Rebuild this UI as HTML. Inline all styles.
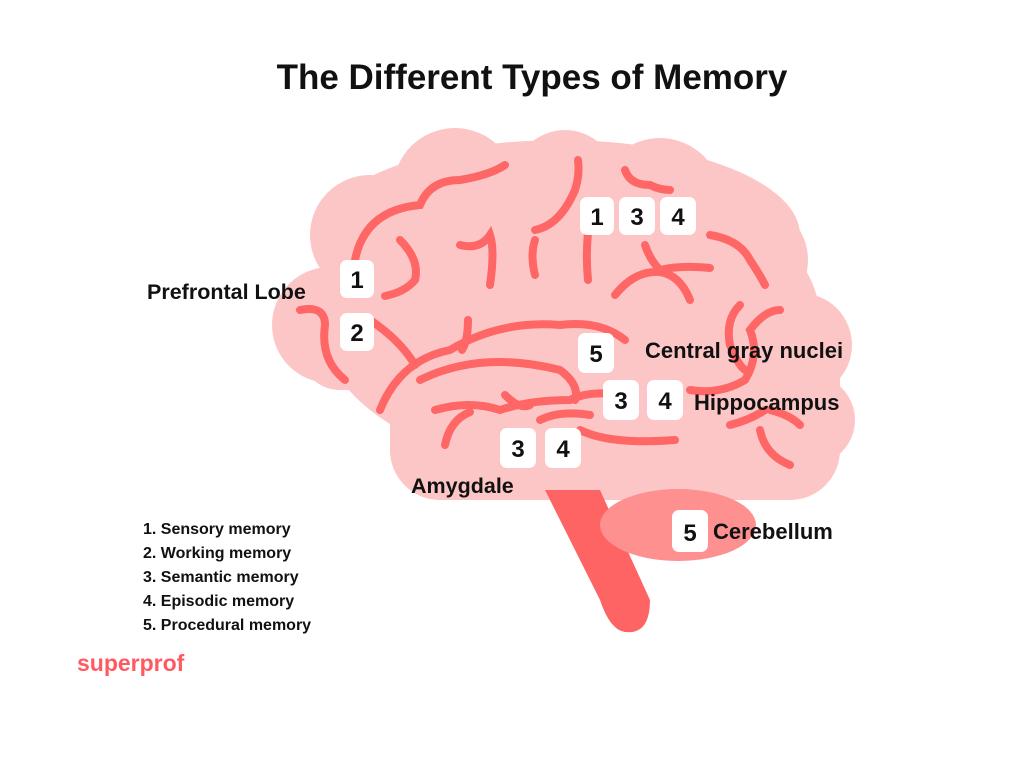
<!DOCTYPE html>
<html><head><style>
body{margin:0;background:#fff;width:1024px;height:768px;overflow:hidden;font-family:"Liberation Sans",sans-serif}
svg{position:absolute;left:0;top:0}
.t{position:absolute;font-weight:bold;color:#111;white-space:nowrap}
</style></head><body>
<svg width="1024" height="768" viewBox="0 0 1024 768">
<g fill="#fdc6c6">
<circle cx="330" cy="325" r="58"/>
<circle cx="370" cy="235" r="60"/>
<circle cx="455" cy="190" r="62"/>
<circle cx="565" cy="182" r="52"/>
<circle cx="660" cy="200" r="62"/>
<circle cx="750" cy="260" r="58"/>
<circle cx="800" cy="345" r="52"/>
<circle cx="810" cy="420" r="45"/>
<ellipse cx="570" cy="320" rx="250" ry="150"/>
<ellipse cx="560" cy="235" rx="240" ry="95"/>
<rect x="390" y="300" width="450" height="200" rx="50"/>
<rect x="300" y="280" width="150" height="110" rx="40"/>
</g>
<path d="M545 490 L600 490 L650 600 Q650 635 625 632 Q610 630 600 600 Z" fill="#ff6464"/>
<ellipse cx="678" cy="525" rx="78" ry="36" fill="#ff9090"/>
<g fill="none" stroke="#ff6666" stroke-width="8" stroke-linecap="round">
<path d="M355 260 Q365 210 420 205 Q430 180 460 180 Q490 175 505 165"/>
<path d="M400 240 Q420 260 415 280 Q405 292 385 296"/>
<path d="M300 310 Q325 305 325 325 Q320 360 345 380"/>
<path d="M370 320 Q400 340 415 365"/>
<path d="M380 410 Q400 360 450 350 Q500 320 560 325 Q600 320 625 340"/>
<path d="M468 320 Q468 340 462 350"/>
<path d="M420 380 Q480 350 560 370 Q580 385 575 400"/>
<path d="M435 410 Q470 400 500 410 Q530 400 570 400 Q590 390 620 395"/>
<path d="M445 445 Q450 420 470 412"/>
<path d="M505 395 Q520 410 530 405"/>
<path d="M580 430 Q610 445 675 440"/>
<path d="M540 420 Q560 410 590 415"/>
<path d="M460 245 Q480 250 490 235 Q495 250 490 285"/>
<path d="M535 230 Q560 225 575 190 Q580 175 578 160"/>
<path d="M535 240 Q530 255 535 275"/>
<path d="M625 170 Q630 185 650 185 Q660 190 670 190"/>
<path d="M590 215 Q585 250 588 280"/>
<path d="M615 295 Q635 270 660 272 Q680 275 690 300"/>
<path d="M660 270 Q680 265 710 268"/>
<path d="M710 235 Q740 240 750 260 Q760 275 765 285"/>
<path d="M645 245 Q650 260 660 270"/>
<path d="M740 305 Q725 320 730 345 Q738 365 745 370"/>
<path d="M690 390 Q720 395 745 380 Q760 355 750 330 Q765 310 780 310"/>
<path d="M770 410 Q790 415 800 425"/>
<path d="M760 430 Q765 455 790 465"/>
<path d="M730 425 Q750 420 765 410"/>
</g>
<g fill="#fff">
<rect x="340" y="260" width="34" height="38" rx="7"/>
<rect x="340" y="313" width="34" height="38" rx="7"/>
<rect x="580" y="197" width="34" height="38" rx="7"/>
<rect x="619" y="197" width="36" height="38" rx="7"/>
<rect x="660" y="197" width="36" height="38" rx="7"/>
<rect x="578" y="333" width="36" height="40" rx="7"/>
<rect x="603" y="380" width="36" height="40" rx="7"/>
<rect x="647" y="380" width="36" height="40" rx="7"/>
<rect x="500" y="428" width="36" height="40" rx="7"/>
<rect x="545" y="428" width="36" height="40" rx="7"/>
<rect x="672" y="510" width="36" height="42" rx="7"/>
</g>
<g font-family="Liberation Sans,sans-serif" font-weight="bold" font-size="24" fill="#111" text-anchor="middle">
<text x="357" y="288">1</text><text x="357" y="341">2</text>
<text x="597" y="225">1</text><text x="637" y="225">3</text><text x="678" y="225">4</text>
<text x="596" y="362">5</text><text x="621" y="409">3</text><text x="665" y="409">4</text>
<text x="518" y="457">3</text><text x="563" y="457">4</text><text x="690" y="541">5</text>
</g>
</svg>
<div class="t" style="left:0;width:1064px;top:58px;text-align:center;font-size:35px">The Different Types of Memory</div>
<div class="t" style="left:147px;top:280px;font-size:21.5px">Prefrontal Lobe</div>
<div class="t" style="left:645px;top:338px;font-size:22px">Central gray nuclei</div>
<div class="t" style="left:694px;top:390px;font-size:22px">Hippocampus</div>
<div class="t" style="left:411px;top:474px;font-size:21.5px">Amygdale</div>
<div class="t" style="left:713px;top:519px;font-size:22px">Cerebellum</div>
<div class="t" style="left:143px;top:518px;font-size:16px;line-height:24px">1. Sensory memory<br>2. Working memory<br>3. Semantic memory<br>4. Episodic memory<br>5. Procedural memory</div>
<div class="t" style="left:77px;top:650px;font-size:23px;color:#ff5a5f">superprof</div>
</body></html>
